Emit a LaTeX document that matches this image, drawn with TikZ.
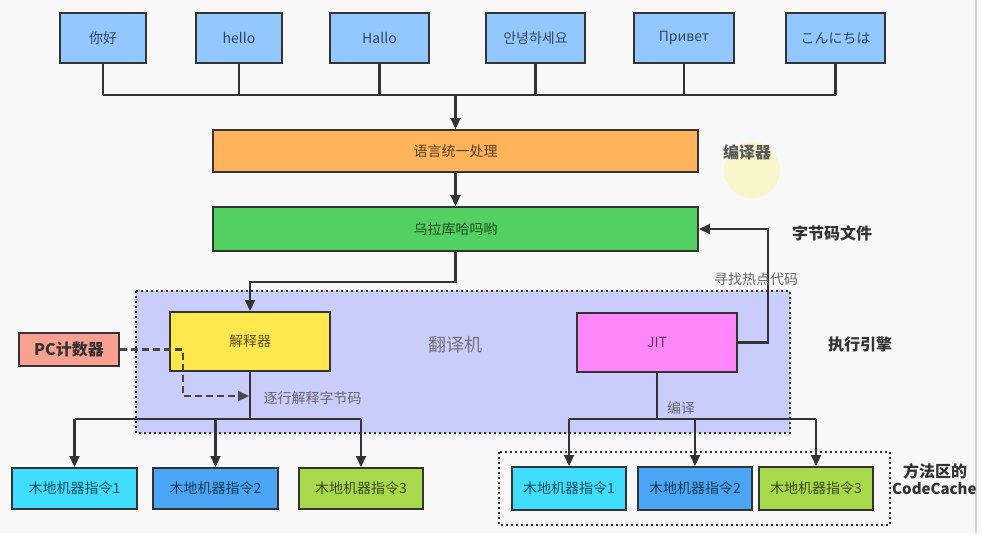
\documentclass[tikz,border=0pt]{standalone}
\usepackage{fontspec}
\setmainfont{Noto Sans CJK SC}
\usetikzlibrary{arrows.meta}
\definecolor{bg}{HTML}{F7F8F7}
\definecolor{ln}{HTML}{333333}
\definecolor{cTop}{HTML}{92C8FF}
\definecolor{cOrange}{HTML}{FFB35A}
\definecolor{cGreen}{HTML}{52D162}
\definecolor{cYellow}{HTML}{FFE84D}
\definecolor{cMag}{HTML}{FF85FA}
\definecolor{cPC}{HTML}{F9A090}
\definecolor{cCyan}{HTML}{40DDFF}
\definecolor{cBlue}{HTML}{4AA6F5}
\definecolor{cLime}{HTML}{A8D84C}
\definecolor{cRegion}{HTML}{C9CDFB}
\tikzset{
  box/.style={draw=ln, line width=2pt, inner sep=0pt, font=\fontsize{14}{16}\selectfont},
  conn/.style={draw=ln, line width=2.2pt},
  arr/.style={conn, -{Triangle[length=11pt,width=10pt]}},
  dasharr/.style={draw=ln!90, line width=2.2pt, dash pattern=on 7pt off 4pt, -{Triangle[length=11pt,width=10pt]}},
  lbl/.style={text=black!60, font=\fontsize{14}{16}\selectfont},
  blbl/.style={text=black!80, font=\fontsize{16}{18}\selectfont\bfseries},
}
\begin{document}
\begin{tikzpicture}[x=1pt,y=-1pt]
\useasboundingbox (0,0) rectangle (982,533);
\fill[bg] (0,0) rectangle (982,533);
\draw[black!18, line width=2pt] (976,0) -- (976,533);
% highlight around label
\fill[yellow, opacity=0.18] (752,170) circle (28);

% region
\draw[fill=cRegion, draw=ln, line width=2pt, dash pattern=on 2pt off 3pt] (136,291) rectangle (790,433);
\draw[draw=ln, line width=2pt, dash pattern=on 2pt off 3pt] (499,452) rectangle (890,525);

% top boxes
\node[box, fill=cTop, text=cTop!35!black, minimum width=86, minimum height=50] (t1) at (103,38) {你好};
\node[box, fill=cTop, text=cTop!35!black, minimum width=86, minimum height=50] (t2) at (239,38) {hello};
\node[box, fill=cTop, text=cTop!35!black, minimum width=99, minimum height=50] (t3) at (379.5,38) {Hallo};
\node[box, fill=cTop, text=cTop!35!black, minimum width=99, minimum height=50] (t4) at (535.5,38) {안녕하세요};
\node[box, fill=cTop, text=cTop!35!black, minimum width=100, minimum height=50] (t5) at (684,38) {Привет};
\node[box, fill=cTop, text=cTop!35!black, minimum width=99, minimum height=50] (t6) at (835.5,38) {こんにちは};

\node[box, fill=cOrange, text=cOrange!35!black, minimum width=485, minimum height=42] (lang) at (455.5,151) {语言统一处理};
\node[box, fill=cGreen, text=cGreen!35!black, minimum width=485, minimum height=44] (byte) at (455.5,229) {乌拉库哈吗哟};

\node[box, fill=cYellow, text=cYellow!35!black, minimum width=160, minimum height=59] (interp) at (250,341.5) {解释器};
\node[box, fill=cMag, text=cMag!40!black, minimum width=160, minimum height=59] (jit) at (657,342.5) {JIT};
\node[box, fill=cPC, text=black!80, minimum width=100, minimum height=33, font=\fontsize{16}{18}\selectfont\bfseries] (pc) at (69,349.5) {PC计数器};

\node[box, fill=cCyan, text=cCyan!35!black, minimum width=125, minimum height=41] (b1) at (74.5,488.5) {木地机器指令1};
\node[box, fill=cBlue, text=cBlue!35!black, minimum width=125, minimum height=41] (b2) at (215.5,488.5) {木地机器指令2};
\node[box, fill=cLime, text=cLime!35!black, minimum width=124, minimum height=41] (b3) at (361,488.5) {木地机器指令3};

\node[box, fill=cCyan, text=cCyan!35!black, minimum width=114, minimum height=43] (r1) at (569,488.5) {木地机器指令1};
\node[box, fill=cBlue, text=cBlue!35!black, minimum width=114, minimum height=43] (r2) at (695,488.5) {木地机器指令2};
\node[box, fill=cLime, text=cLime!35!black, minimum width=114, minimum height=43] (r3) at (816,488.5) {木地机器指令3};

% coordinates
\coordinate (busL) at (103,95);
\coordinate (busR) at (835.5,95);
\coordinate (busM) at (455.5,95);
\coordinate (g1) at (455.5,282);
\coordinate (g2) at (250,282);
\coordinate (ib) at (250,419);
\coordinate (ibL) at (74.5,419);
\coordinate (ibR) at (361,419);
\coordinate (ib2) at (215.5,419);
\coordinate (jb) at (657,419);
\coordinate (jbL) at (569,419);
\coordinate (jbR) at (816,419);
\coordinate (jb2) at (695,419);
\coordinate (hot) at (768,342.5);
\coordinate (pc1) at (183,349.5);
\coordinate (pc2) at (183,396);
\coordinate (pcEnd) at (249,396);

% connectors
\foreach \n in {t1,t2,t3,t4,t5,t6}{\draw[conn] (\n.south) -- (\n.south |- busL);}
\draw[conn] (busL) -- (busR);
\draw[arr] (busM) -- (lang.north);
\draw[arr] (lang.south) -- (byte.north);
\draw[arr] (byte.south) -- (g1) -- (g2) -- (interp.north);
\draw[conn] (interp.south) -- (ib);
\draw[conn] (ibL) -- (ibR);
\draw[arr] (ibL) -- (b1.north);
\draw[arr] (ib2) -- (b2.north);
\draw[arr] (ibR) -- (b3.north);
\draw[conn] (jit.south) -- (jb);
\draw[conn] (jbL) -- (jbR);
\draw[arr] (jbL) -- (r1.north);
\draw[arr] (jb2) -- (r2.north);
\draw[arr] (jbR) -- (r3.north);
\draw[arr] (jit.east) -- (hot) |- (byte.east);
\draw[dasharr] (pc.east) -- (pc1) -- (pc2) -- (pcEnd);

% labels
\node[lbl, anchor=west] (l1) at (260,398) {逐行解释字节码};
\node[lbl] (l2) at (681,408) {编译};
\node[lbl] (l3) at (756,279) {寻找热点代码};
\node[text=black!55, font=\fontsize{18}{20}\selectfont] (l4) at (455,345) {翻译机};
\node[text=black!65, font=\fontsize{16}{18}\selectfont\bfseries] (l5) at (747,152) {编译器};
\node[blbl] (l6) at (832,233) {字节码文件};
\node[blbl] (l7) at (860,344) {执行引擎};
\node[blbl] (l8) at (935,471) {方法区的};
\node[blbl, anchor=west, inner sep=0pt, font=\fontsize{15}{17}\selectfont\bfseries] (l9) at (892,489) {CodeCache};
\end{tikzpicture}
\end{document}
